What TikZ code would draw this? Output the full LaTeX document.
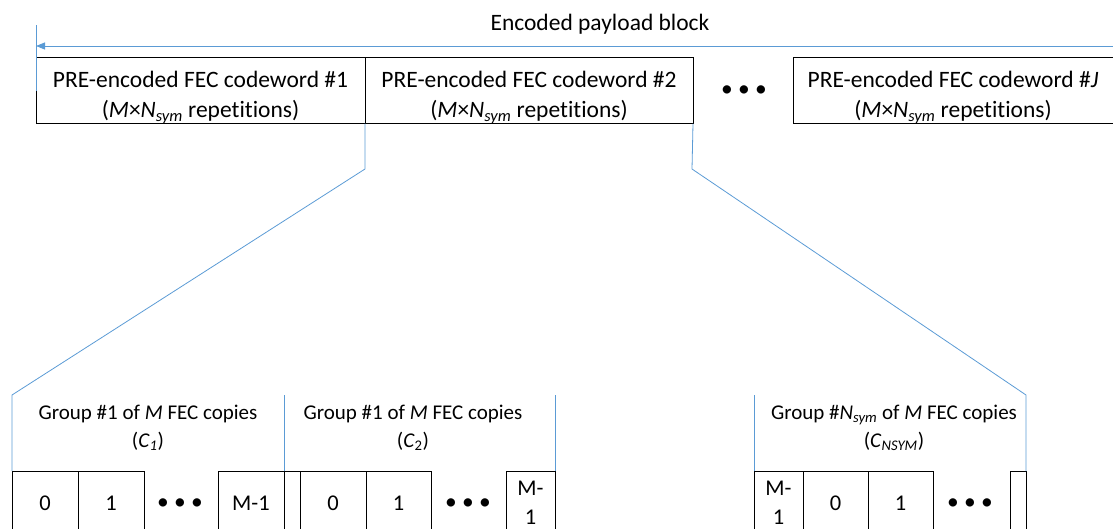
\documentclass[tikz,border=0pt]{standalone}
\usepackage{fontspec}
\setmainfont[Ligatures=NoCommon]{Carlito}
\usetikzlibrary{positioning}
\usetikzlibrary{arrows.meta}
\definecolor{lblue}{RGB}{91,155,213}
\newcommand{\Nsym}{\textit{N}\textsubscript{\textit{sym}}}
\tikzset{cwbox/.style = {draw, line width=1pt, inner sep=0pt, outer sep=0pt,
                         minimum height=61pt, align=center,
                         font=\fontsize{23.5}{30}\selectfont}}
\tikzset{cell/.style = {draw, line width=1pt, inner sep=0pt, outer sep=0pt,
                        minimum width=66pt, minimum height=64pt, align=center,
                        font=\fontsize{22.5}{29}\selectfont}}
\tikzset{grplbl/.style = {align=center, font=\fontsize{21}{28}\selectfont}}
\tikzset{dots/.style = {inner sep=0pt, font=\fontsize{23.5}{28}\selectfont}}
\tikzset{conn/.style = {draw=lblue, line width=0.8pt}}
\begin{document}
\begin{tikzpicture}[x=1pt, y=-1pt]
      \useasboundingbox (0,0) rectangle (1113,528);
      \clip (0,0) rectangle (1113,528);
      \node[font=\fontsize{23.5}{28}\selectfont] (title) at (600,24.5) {Encoded payload block};
      \node[cwbox, minimum width=329pt] (cw1) at (200.5,90.5)
        {\rule{0pt}{30pt}PRE-encoded FEC codeword \#1\\(\textit{M}×\Nsym{} repetitions)};
      \node[cwbox, minimum width=328pt, right=0pt of cw1] (cw2)
        {\rule{0pt}{30pt}PRE-encoded FEC codeword \#2\\(\textit{M}×\Nsym{} repetitions)};
      \node[dots] (dtop) at (744,91) {• • •};
      \node[cwbox, minimum width=320pt] (cwJ) at (953,90.5)
        {\rule{0pt}{30pt}PRE-encoded FEC codeword \#\textit{J}\\(\textit{M}×\Nsym{} repetitions)};
      \coordinate (aR) at (1113,46);
      \coordinate (tickT) at (36,25);
      \draw[conn] (tickT) -- (cw1.west);
      \draw[conn, -{Triangle[length=9pt, width=7pt]}] (aR) -- (aR -| cw1.west);
      \node[cell] (b10) at (45,503) {0};
      \node[cell, right=0pt of b10] (b11) {1};
      \node[dots] (d1) at (180,504) {• • •};
      \node[cell] (b1M) at (251,503) {M-1};
      \node[cell, minimum width=16pt, right=0pt of b1M] (n1) {};
      \node[cell, right=0pt of n1] (b20) {0};
      \node[cell, minimum width=65pt, right=0pt of b20] (b21) {1};
      \node[dots] (d2) at (468,504) {• • •};
      \node[cell, minimum width=49pt] (b2M) at (530.5,503) {M-\\1};
      \node[cell, minimum width=49pt] (b3M) at (778.5,503) {M-\\1};
      \node[cell, minimum width=65pt, right=0pt of b3M] (b30) {0};
      \node[cell, minimum width=65pt, right=0pt of b30] (b31) {1};
      \node[dots] (d3) at (970,504) {• • •};
      \node[cell, minimum width=16pt] (n3) at (1018,503) {};
      \node[grplbl] (g1) at (148,428)
        {Group \#1 of \textit{M} FEC copies\\(\textit{C}\textsubscript{\textit{1}})};
      \node[grplbl] (g2) at (413,428)
        {Group \#1 of \textit{M} FEC copies\\(\textit{C}\textsubscript{2})};
      \node[grplbl] (g3) at (894,428)
        {Group \#\Nsym{} of \textit{M} FEC copies\\(\textit{C}\textsubscript{\textit{NSYM}})};
      \coordinate (kL) at (365,169);
      \coordinate (gL) at (12,395);
      \coordinate (kR) at (692,169);
      \coordinate (gR) at (1026,395);
      \draw[conn] (cw2.south west) -- (kL) -- (gL) -- (b10.north west);
      \draw[conn] (cw2.south east) -- (kR) -- (gR) -- (n3.north east);
      \draw[conn] (b1M.north east) -- (b1M.north east |- gL);
      \draw[conn] (b2M.north east) -- (b2M.north east |- gL);
      \draw[conn] (b3M.north west) -- (b3M.north west |- gL);
    \end{tikzpicture}
\end{document}
